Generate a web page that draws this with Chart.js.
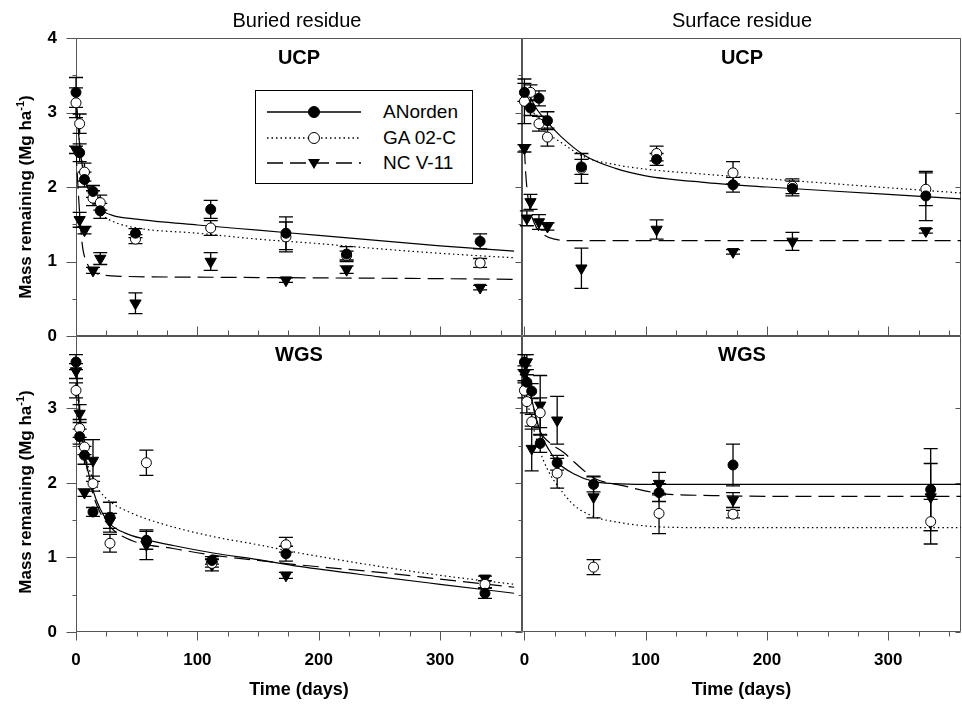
<!DOCTYPE html>
<html>
<head>
<meta charset="utf-8">
<script src="https://cdn.jsdelivr.net/npm/chart.js@4.4.0/dist/chart.umd.min.js"></script>
<style>
  body { margin: 0; background: #fff; }
  #page { position: relative; width: 962px; height: 707px; overflow: hidden; font-family: 'Liberation Sans', Arial, sans-serif; color: #000; }
  .panel { position: absolute; line-height: 0; }
  .lbl { position: absolute; transform: translate(-50%, -50%); white-space: nowrap; }
  .col { font-size: 20px; }
  .site { font-size: 20px; font-weight: bold; }
  .ylab { font-size: 17px; font-weight: bold; transform: translate(-50%, -50%) rotate(-90deg); }
  .ylab sup { font-size: 11px; }
  #legend { position: absolute; left: 255px; top: 90px; width: 216px; height: 92px; border: 1px solid #000; background: #fff; }
  #legend .row { position: absolute; left: 11px; height: 20px; display: flex; align-items: center; }
  #legend span { margin-left: 22px; font-size: 19px; }
</style>
</head>
<body>
<div id="page">
  <div class="panel" style="left:0;top:0;"><canvas id="cTL" width="523" height="375"></canvas></div>
  <div class="panel" style="left:0;top:300px;"><canvas id="cBL" width="523" height="407"></canvas></div>
  <div class="panel" style="left:510px;top:0;"><canvas id="cTR" width="452" height="375"></canvas></div>
  <div class="panel" style="left:510px;top:300px;"><canvas id="cBR" width="452" height="407"></canvas></div>

  <div class="lbl col" style="left:297px;top:20px;">Buried residue</div>
  <div class="lbl col" style="left:742px;top:20px;">Surface residue</div>
  <div class="lbl site" style="left:299px;top:57px;">UCP</div>
  <div class="lbl site" style="left:742px;top:57px;">UCP</div>
  <div class="lbl site" style="left:299px;top:354px;">WGS</div>
  <div class="lbl site" style="left:742px;top:354px;">WGS</div>
  <div class="lbl ylab" style="left:25px;top:197px;">Mass remaining (Mg ha<sup>-1</sup>)</div>
  <div class="lbl ylab" style="left:25px;top:492px;">Mass remaining (Mg ha<sup>-1</sup>)</div>
  <div id="legend"></div>
</div>

<script>
// Labels / ticks
const cultivars = ['ANorden', 'GA 02-C', 'NC V-11'];
const xTickVals = [0, 100, 200, 300];
const yTicksTop = [0, 1, 2, 3, 4];
const yTicksBottom = [0, 1, 2, 3];

// Buried residue, UCP
const buUcpDays = [0, 3, 7, 14, 20, 49, 111, 173, 223, 333];
const buUcpAN = [3.27, 2.46, 2.10, 1.94, 1.68, 1.38, 1.70, 1.38, 1.10, 1.27];
const buUcpANErr = [0.20, 0.12, 0.10, 0.08, 0.10, 0.06, 0.12, 0.22, 0.10, 0.10];
const buUcpGA = [3.13, 2.85, 2.20, 1.85, 1.79, 1.30, 1.45, 1.33, 1.08, 0.98];
const buUcpGAErr = [0.20, 0.13, 0.12, 0.10, 0.10, 0.06, 0.10, 0.20, 0.06, 0.06];
const buUcpNC = [2.50, 1.56, 1.42, 0.88, 1.04, 0.44, 1.00, 0.75, 0.89, 0.65];
const buUcpNCErr = [0.05, 0.10, 0.05, 0.04, 0.08, 0.14, 0.12, 0.03, 0.05, 0.03];
// fitted curves
const buUcpANFitX = [0, 2, 5, 10, 15, 20, 30, 50, 100, 150, 200, 250, 300, 361];
const buUcpANFitY = [3.30, 2.75, 2.30, 1.98, 1.80, 1.70, 1.62, 1.57, 1.49, 1.42, 1.35, 1.28, 1.21, 1.14];
const buUcpGAFitX = [0, 3, 7, 14, 20, 30, 50, 100, 150, 200, 250, 300, 361];
const buUcpGAFitY = [3.20, 2.60, 2.15, 1.80, 1.65, 1.54, 1.45, 1.38, 1.30, 1.24, 1.17, 1.11, 1.05];
const buUcpNCFitX = [0, 2, 5, 9, 15, 22, 40, 100, 200, 300, 361];
const buUcpNCFitY = [2.50, 1.90, 1.25, 0.98, 0.86, 0.82, 0.80, 0.79, 0.78, 0.77, 0.76];

// Surface residue, UCP
const suUcpDays = [0, 5, 12, 19, 47, 109, 172, 221, 331];
const suUcpAN = [3.27, 3.06, 3.19, 2.89, 2.27, 2.37, 2.03, 1.98, 1.88];
const suUcpANErr = [0.12, 0.10, 0.10, 0.12, 0.10, 0.08, 0.10, 0.10, 0.33];
const suUcpGA = [3.15, 3.27, 2.85, 2.67, 2.25, 2.45, 2.19, 2.01, 1.97];
const suUcpGAErr = [0.30, 0.10, 0.10, 0.12, 0.20, 0.10, 0.15, 0.10, 0.22];
const suUcpNCDays = [0, 2, 5, 12, 19, 47, 109, 172, 221, 331];
const suUcpNC = [2.52, 1.58, 1.80, 1.53, 1.47, 0.91, 1.43, 1.13, 1.27, 1.41];
const suUcpNCErr = [0.05, 0.10, 0.10, 0.10, 0.05, 0.27, 0.13, 0.03, 0.12, 0.03];
const suUcpANFitX = [0, 5, 10, 20, 30, 50, 75, 100, 150, 200, 250, 300, 360];
const suUcpANFitY = [3.35, 3.20, 3.05, 2.85, 2.68, 2.42, 2.25, 2.15, 2.06, 2.00, 1.95, 1.90, 1.84];
const suUcpGAFitX = [0, 5, 10, 20, 30, 50, 75, 100, 150, 200, 250, 300, 360];
const suUcpGAFitY = [3.20, 3.05, 2.95, 2.72, 2.60, 2.40, 2.30, 2.24, 2.17, 2.11, 2.05, 1.99, 1.92];
const suUcpNCFitX = [0, 1, 3, 8, 16, 25, 40, 100, 360];
const suUcpNCFitY = [2.52, 2.20, 1.85, 1.52, 1.36, 1.30, 1.28, 1.28, 1.28];

// Buried residue, WGS
const buWgsDays = [0, 3, 7, 14, 28, 58, 112, 173, 337];
const buWgsAN = [3.62, 2.62, 2.37, 1.61, 1.54, 1.23, 0.96, 1.05, 0.52];
const buWgsANErr = [0.10, 0.10, 0.12, 0.06, 0.20, 0.12, 0.05, 0.10, 0.07];
const buWgsGA = [3.24, 2.73, 2.48, 1.99, 1.19, 2.27, 0.92, 1.17, 0.64];
const buWgsGAErr = [0.10, 0.12, 0.10, 0.10, 0.12, 0.17, 0.05, 0.10, 0.05];
const buWgsNC = [3.50, 2.93, 1.87, 2.30, 1.49, 1.17, 0.90, 0.76, 0.72];
const buWgsNCErr = [0.10, 0.12, 0.05, 0.28, 0.10, 0.20, 0.08, 0.04, 0.03];
const buWgsANFitX = [0, 3, 7, 14, 20, 28, 40, 58, 80, 113, 150, 184, 250, 300, 361];
const buWgsANFitY = [3.65, 2.90, 2.40, 1.90, 1.65, 1.45, 1.33, 1.24, 1.16, 1.06, 0.97, 0.88, 0.74, 0.64, 0.52];
const buWgsGAFitX = [0, 3, 7, 14, 20, 28, 45, 69, 113, 150, 184, 250, 300, 361];
const buWgsGAFitY = [3.30, 2.75, 2.40, 2.05, 1.88, 1.75, 1.60, 1.46, 1.28, 1.17, 1.06, 0.88, 0.76, 0.64];
const buWgsNCFitX = [0, 3, 7, 14, 20, 30, 47, 80, 113, 150, 184, 250, 300, 361];
const buWgsNCFitY = [3.60, 3.00, 2.40, 1.85, 1.60, 1.38, 1.22, 1.12, 1.03, 0.96, 0.90, 0.80, 0.71, 0.60];

// Surface residue, WGS
const suWgsDays = [0, 2, 6, 13, 27, 57, 111, 172, 335];
const suWgsAN = [3.62, 3.35, 3.23, 2.53, 2.27, 1.98, 1.87, 2.24, 1.91];
const suWgsANErr = [0.10, 0.10, 0.10, 0.12, 0.10, 0.10, 0.12, 0.28, 0.55];
const suWgsGA = [3.24, 3.09, 2.82, 2.94, 2.13, 0.87, 1.59, 1.58, 1.48];
const suWgsGAErr = [0.10, 0.15, 0.10, 0.20, 0.20, 0.10, 0.27, 0.05, 0.30];
const suWgsNC = [3.47, 3.62, 2.46, 3.04, 2.84, 1.81, 1.99, 1.77, 1.81];
const suWgsNCErr = [0.10, 0.10, 0.30, 0.40, 0.32, 0.28, 0.15, 0.10, 0.45];
const suWgsANFitX = [0, 5, 10, 15, 20, 27, 41, 57, 74, 100, 360];
const suWgsANFitY = [3.65, 3.20, 2.85, 2.60, 2.45, 2.28, 2.12, 2.02, 1.99, 1.98, 1.98];
const suWgsGAFitX = [0, 5, 13, 20, 27, 41, 57, 74, 111, 150, 360];
const suWgsGAFitY = [3.30, 2.90, 2.42, 2.15, 1.97, 1.70, 1.55, 1.48, 1.41, 1.40, 1.40];
const suWgsNCFitX = [0, 5, 12, 20, 33, 41, 58, 82, 111, 156, 200, 360];
const suWgsNCFitY = [3.60, 3.20, 2.72, 2.55, 2.40, 2.28, 2.06, 1.96, 1.86, 1.83, 1.82, 1.82];

// Styles
const markers = [
  { pointStyle: 'circle', radius: 5, rotation: 0, fill: '#000' },
  { pointStyle: 'circle', radius: 5, rotation: 0, fill: '#fff' },
  { pointStyle: 'triangle', radius: 6.5, rotation: 180, fill: '#000' }
];
const dashes = [[], [1.5, 3], [16, 7]];
const tickFont = { family: "'Liberation Sans', Arial, sans-serif", size: 17, weight: 'bold' };
// invisible tick marks only push the labels away from the axis
const hiddenTicks = { display: true, drawOnChartArea: false, drawTicks: true, tickLength: 16, tickColor: 'rgba(0,0,0,0)' };

// Error bars drawn through the chart's scales
const errorBars = {
  id: 'errorBars',
  beforeDatasetsDraw(chart) {
    const { ctx, scales: { x, y } } = chart;
    ctx.save();
    ctx.strokeStyle = '#000';
    ctx.lineWidth = 1.3;
    chart.data.datasets.forEach(ds => {
      if (!ds.errors) return;
      ds.data.forEach((p, i) => {
        const e = ds.errors[i];
        const px = x.getPixelForValue(p.x);
        const y1 = y.getPixelForValue(p.y + e);
        const y2 = y.getPixelForValue(p.y - e);
        ctx.beginPath();
        ctx.moveTo(px, y1); ctx.lineTo(px, y2);
        ctx.moveTo(px - 7, y1); ctx.lineTo(px + 7, y1);
        ctx.moveTo(px - 7, y2); ctx.lineTo(px + 7, y2);
        ctx.stroke();
      });
    });
    ctx.restore();
  }
};

// Frame + major/minor tick marks
function framePlugin(f) {
  return {
    id: 'frame',
    beforeDatasetsDraw(chart) {
      const { ctx, chartArea: a, scales: { x, y } } = chart;
      const L = Math.round(a.left) + 0.5, R = Math.round(a.right) - 0.5;
      const T = Math.round(a.top) + 0.5, B = Math.round(a.bottom) - 0.5;
      ctx.save();
      ctx.strokeStyle = '#555';
      ctx.lineWidth = 1;
      ctx.beginPath();
      ctx.moveTo(L, T); ctx.lineTo(R, T); ctx.lineTo(R, B); ctx.lineTo(L, B); ctx.closePath();
      // x ticks every 25 days
      const dir = f.bottom === 'in' ? -1 : 1;
      for (let v = 0; v <= x.max; v += 25) {
        const px = Math.round(x.getPixelForValue(v)) + 0.5;
        const len = v % 100 === 0 ? 9 : 5;
        ctx.moveTo(px, B); ctx.lineTo(px, B + dir * len);
      }
      // y ticks every 0.5
      for (let v = 0; v <= y.max; v += 0.5) {
        const py = Math.round(y.getPixelForValue(v)) + 0.5;
        const major = v % 1 === 0;
        ctx.moveTo(L, py); ctx.lineTo(L - (major ? f.leftLen : 4), py);
        if (f.right && major) { ctx.moveTo(R, py); ctx.lineTo(R - 5, py); }
      }
      ctx.stroke();
      ctx.restore();
    }
  };
}

// nudge layout padding until the plot area sits where the panel needs it
function fitArea(chart, target, pad) {
  for (let k = 0; k < 4; k++) {
    const a = chart.chartArea;
    const d = {
      top: target.top - a.top,
      bottom: a.bottom - target.bottom,
      left: target.left - a.left,
      right: a.right - target.right
    };
    if (Math.abs(d.top) + Math.abs(d.bottom) + Math.abs(d.left) + Math.abs(d.right) < 0.5) break;
    pad = { top: pad.top + d.top, bottom: pad.bottom + d.bottom, left: pad.left + d.left, right: pad.right + d.right };
    chart.options.layout.padding = pad;
    chart.update();
  }
}

function makePanel(id, p) {
  const datasets = [];
  p.fits.forEach((c, i) => {
    datasets.push({
      type: 'line',
      data: c.x.map((v, k) => ({ x: v, y: c.y[k] })),
      borderColor: '#000',
      borderWidth: 1.2,
      borderDash: dashes[i],
      pointRadius: 0,
      tension: 0.4,
      cubicInterpolationMode: 'monotone',
      fill: false,
      order: 2
    });
  });
  p.series.forEach((s, i) => {
    const m = markers[i];
    datasets.push({
      type: 'scatter',
      label: cultivars[i],
      data: s.days.map((d, k) => ({ x: d, y: s.vals[k] })),
      errors: s.errs,
      pointStyle: m.pointStyle,
      pointRadius: m.radius,
      pointRotation: m.rotation,
      backgroundColor: m.fill,
      borderColor: '#000',
      borderWidth: 1,
      clip: false,
      order: 1
    });
  });

  const pad = { top: p.area.top, bottom: 0, left: 0, right: 1 };
  const chart = new Chart(document.getElementById(id), {
    type: 'scatter',
    data: { datasets },
    options: {
      responsive: false,
      maintainAspectRatio: false,
      animation: false,
      events: [],
      layout: { padding: pad, autoPadding: false },
      plugins: { legend: { display: false }, tooltip: { enabled: false } },
      scales: {
        x: {
          type: 'linear', min: p.xMin, max: p.xMax,
          display: true,
          grid: hiddenTicks, border: { display: false },
          afterBuildTicks: s => { s.ticks = xTickVals.map(v => ({ value: v })); },
          afterFit: s => { s.height = p.showX ? 75 : 0; },
          ticks: { display: p.showX, font: tickFont, color: '#000', padding: 2, maxRotation: 0, autoSkip: false },
          title: { display: p.showX, text: 'Time (days)', color: '#000', padding: { bottom: 6 },
                   font: { family: "'Liberation Sans', Arial, sans-serif", size: 18, weight: 'bold' } }
        },
        y: {
          type: 'linear', min: 0, max: p.yMax,
          display: true,
          grid: hiddenTicks, border: { display: false },
          afterBuildTicks: s => { s.ticks = p.yTicks.map(v => ({ value: v })); },
          afterFit: s => { s.width = p.showY ? 76 : 0; },
          ticks: { display: p.showY, font: tickFont, color: '#000', padding: 3, autoSkip: false }
        }
      }
    },
    plugins: [framePlugin(p.frame), errorBars]
  });
  fitArea(chart, p.area, pad);
}

makePanel('cTL', {
  xMin: 0, xMax: 367.5, yMax: 4, yTicks: yTicksTop, showX: false, showY: true,
  area: { left: 76, right: 522, top: 38, bottom: 336 },
  frame: { bottom: 'in', leftLen: 10, right: false },
  series: [
    { days: buUcpDays, vals: buUcpAN, errs: buUcpANErr },
    { days: buUcpDays, vals: buUcpGA, errs: buUcpGAErr },
    { days: buUcpDays, vals: buUcpNC, errs: buUcpNCErr }
  ],
  fits: [
    { x: buUcpANFitX, y: buUcpANFitY },
    { x: buUcpGAFitX, y: buUcpGAFitY },
    { x: buUcpNCFitX, y: buUcpNCFitY }
  ]
});

makePanel('cBL', {
  xMin: 0, xMax: 367.5, yMax: 3.97, yTicks: yTicksBottom, showX: true, showY: true,
  area: { left: 76, right: 522, top: 36, bottom: 332 },
  frame: { bottom: 'out', leftLen: 10, right: false },
  series: [
    { days: buWgsDays, vals: buWgsAN, errs: buWgsANErr },
    { days: buWgsDays, vals: buWgsGA, errs: buWgsGAErr },
    { days: buWgsDays, vals: buWgsNC, errs: buWgsNCErr }
  ],
  fits: [
    { x: buWgsANFitX, y: buWgsANFitY },
    { x: buWgsGAFitX, y: buWgsGAFitY },
    { x: buWgsNCFitX, y: buWgsNCFitY }
  ]
});

makePanel('cTR', {
  xMin: -2, xMax: 360, yMax: 4, yTicks: yTicksTop, showX: false, showY: false,
  area: { left: 12, right: 451, top: 38, bottom: 336 },
  frame: { bottom: 'in', leftLen: 7, right: true },
  series: [
    { days: suUcpDays, vals: suUcpAN, errs: suUcpANErr },
    { days: suUcpDays, vals: suUcpGA, errs: suUcpGAErr },
    { days: suUcpNCDays, vals: suUcpNC, errs: suUcpNCErr }
  ],
  fits: [
    { x: suUcpANFitX, y: suUcpANFitY },
    { x: suUcpGAFitX, y: suUcpGAFitY },
    { x: suUcpNCFitX, y: suUcpNCFitY }
  ]
});

makePanel('cBR', {
  xMin: -2, xMax: 360, yMax: 3.97, yTicks: yTicksBottom, showX: true, showY: false,
  area: { left: 12, right: 451, top: 36, bottom: 332 },
  frame: { bottom: 'out', leftLen: 7, right: true },
  series: [
    { days: suWgsDays, vals: suWgsAN, errs: suWgsANErr },
    { days: suWgsDays, vals: suWgsGA, errs: suWgsGAErr },
    { days: suWgsDays, vals: suWgsNC, errs: suWgsNCErr }
  ],
  fits: [
    { x: suWgsANFitX, y: suWgsANFitY },
    { x: suWgsGAFitX, y: suWgsGAFitY },
    { x: suWgsNCFitX, y: suWgsNCFitY }
  ]
});

// Legend: line sample + marker + name
const legendEl = document.getElementById('legend');
const rowTops = [11, 37, 62];
cultivars.forEach((name, i) => {
  const m = markers[i];
  const dash = dashes[i].length ? `stroke-dasharray="${dashes[i].join(',')}"` : '';
  const mark = m.pointStyle === 'circle'
    ? `<circle cx="47" cy="10" r="5.5" fill="${m.fill}" stroke="#000" stroke-width="1"/>`
    : `<polygon points="41,6 53,6 47,16" fill="#000"/>`;
  const row = document.createElement('div');
  row.className = 'row';
  row.style.top = rowTops[i] + 'px';
  row.innerHTML = `<svg width="94" height="20"><line x1="0" y1="10" x2="94" y2="10" stroke="#000" stroke-width="1.5" ${dash}/>${mark}</svg><span>${name}</span>`;
  legendEl.appendChild(row);
});
</script>
</body>
</html>
